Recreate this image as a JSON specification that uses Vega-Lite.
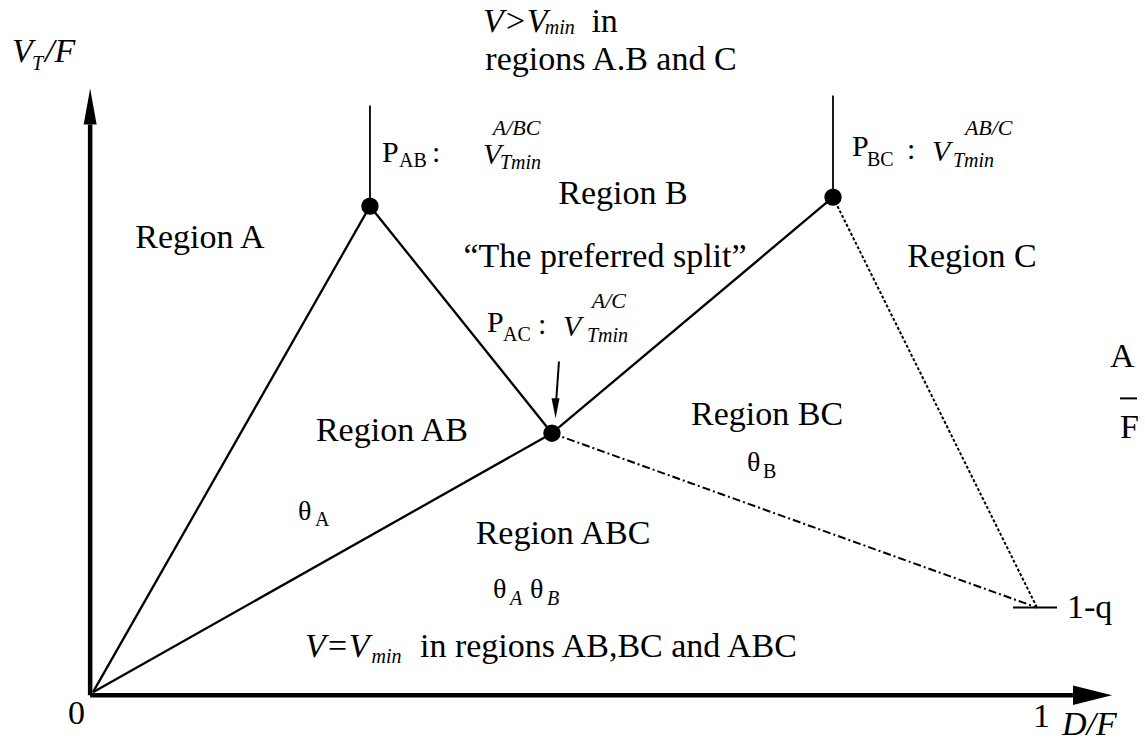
{
  "$schema": "https://vega.github.io/schema/vega-lite/v6.json",
  "width": 1145,
  "height": 742,
  "padding": 0,
  "autosize": {"type": "fit", "contains": "padding"},
  "background": "white",
  "config": {"view": {"stroke": null}, "text": {"font": "'Liberation Serif', 'DejaVu Serif', serif"}},
  "datasets": {
    "edges": [
      {"edge": "O-PAB", "x": 0, "y": 0, "x2": 0.2934, "y2": 0.976},
      {"edge": "PAB-PAC", "x": 0.2934, "y": 0.976, "x2": 0.4862, "y2": 0.52},
      {"edge": "O-PAC", "x": 0, "y": 0, "x2": 0.4862, "y2": 0.52},
      {"edge": "PAC-PBC", "x": 0.4862, "y": 0.52, "x2": 0.7839, "y2": 0.994},
      {"edge": "PAB-up", "x": 0.2934, "y": 0.976, "x2": 0.2934, "y2": 1.178},
      {"edge": "PBC-up", "x": 0.7839, "y": 0.994, "x2": 0.7839, "y2": 1.198},
      {"edge": "PBC-Q", "x": 0.7839, "y": 0.994, "x2": 1, "y2": 0.17},
      {"edge": "PAC-Q", "x": 0.4862, "y": 0.52, "x2": 1, "y2": 0.17}
    ],
    "axes": [
      {"axis": "VT/F", "x": -0.003, "y": -0.006, "x2": -0.003, "y2": 1.14},
      {"axis": "D/F", "x": -0.003, "y": -0.006, "x2": 1.038, "y2": -0.006}
    ],
    "heads": [
      {"dir": "up", "x": -0.003, "y": 1.176},
      {"dir": "right", "x": 1.0588, "y": -0.006},
      {"dir": "down", "x": 0.49, "y": 0.57}
    ],
    "aux": [
      {"item": "1-q tick", "x": 0.9746, "y": 0.17, "x2": 1.0212, "y2": 0.17},
      {"item": "A/F bar", "x": 1.0879, "y": 0.59, "x2": 1.1059, "y2": 0.59},
      {"item": "PAC pointer", "x": 0.4936, "y": 0.664, "x2": 0.4905, "y2": 0.58}
    ],
    "nodes": [
      {"name": "PAB", "x": 0.2934, "y": 0.976},
      {"name": "PAC", "x": 0.4862, "y": 0.52},
      {"name": "PBC", "x": 0.7839, "y": 0.994}
    ],
    "labels": [
      {"t": "Region A", "x": 0.1133, "y": 0.892, "role": "region"},
      {"t": "Region B", "x": 0.5614, "y": 0.98, "role": "region"},
      {"t": "Region C", "x": 0.9311, "y": 0.854, "role": "region"},
      {"t": "“The preferred split”", "x": 0.5424, "y": 0.854, "role": "region"},
      {"t": "Region AB", "x": 0.3167, "y": 0.504, "role": "region"},
      {"t": "Region BC", "x": 0.714, "y": 0.536, "role": "region"},
      {"t": "Region ABC", "x": 0.4979, "y": 0.298, "role": "region"},
      {"t": "regions A.B and C", "x": 0.5487, "y": 1.25, "role": "region"},
      {"t": "in", "x": 0.528, "y": 1.326, "role": "text"},
      {"t": "in regions AB,BC and ABC", "x": 0.3464, "y": 0.07, "role": "text"},
      {"t": "0", "x": -0.0265, "y": -0.064, "role": "text"},
      {"t": "1", "x": 0.9958, "y": -0.07, "role": "text"},
      {"t": "1-q", "x": 1.0318, "y": 0.148, "role": "text"},
      {"t": "A", "x": 1.0773, "y": 0.654, "role": "text"},
      {"t": "F", "x": 1.0879, "y": 0.51, "role": "text"},
      {"t": "V>V", "x": 0.4131, "y": 1.326, "role": "var"},
      {"t": "V=V", "x": 0.2246, "y": 0.07, "role": "var"},
      {"t": "D/F", "x": 1.0265, "y": -0.086, "role": "var"},
      {"t": "V", "x": -0.0858, "y": 1.266, "role": "var"},
      {"t": "/F", "x": -0.0508, "y": 1.266, "role": "var"},
      {"t": "min", "x": 0.4785, "y": 1.322, "role": "varsub"},
      {"t": "min", "x": 0.295, "y": 0.058, "role": "varsub"},
      {"t": "T", "x": -0.0646, "y": 1.25, "role": "varsub"},
      {"t": "Tmin", "x": 0.4311, "y": 1.05, "role": "varsub"},
      {"t": "Tmin", "x": 0.911, "y": 1.054, "role": "varsub"},
      {"t": "Tmin", "x": 0.5233, "y": 0.704, "role": "varsub"},
      {"t": "A", "x": 0.4417, "y": 0.176, "role": "varsub"},
      {"t": "B", "x": 0.4809, "y": 0.176, "role": "varsub"},
      {"t": "A/BC", "x": 0.4235, "y": 1.118, "role": "varsup"},
      {"t": "AB/C", "x": 0.9236, "y": 1.118, "role": "varsup"},
      {"t": "A/C", "x": 0.5284, "y": 0.772, "role": "varsup"},
      {"t": "P", "x": 0.3061, "y": 1.064, "role": "pname"},
      {"t": ":", "x": 0.3591, "y": 1.064, "role": "pname"},
      {"t": "P", "x": 0.804, "y": 1.076, "role": "pname"},
      {"t": ":", "x": 0.8623, "y": 1.07, "role": "pname"},
      {"t": "P", "x": 0.4174, "y": 0.724, "role": "pname"},
      {"t": ":", "x": 0.4714, "y": 0.72, "role": "pname"},
      {"t": "V", "x": 0.4131, "y": 1.06, "role": "pvar"},
      {"t": "V", "x": 0.8888, "y": 1.066, "role": "pvar"},
      {"t": "V", "x": 0.4979, "y": 0.716, "role": "pvar"},
      {"t": "AB", "x": 0.3242, "y": 1.054, "role": "psub"},
      {"t": "BC", "x": 0.8199, "y": 1.056, "role": "psub"},
      {"t": "AC", "x": 0.4343, "y": 0.706, "role": "psub"},
      {"t": "A", "x": 0.2352, "y": 0.334, "role": "psub"},
      {"t": "B", "x": 0.7097, "y": 0.43, "role": "psub"},
      {"t": "θ", "x": 0.2172, "y": 0.346, "role": "theta"},
      {"t": "θ", "x": 0.6928, "y": 0.444, "role": "theta"},
      {"t": "θ", "x": 0.4237, "y": 0.19, "role": "theta"},
      {"t": "θ", "x": 0.4629, "y": 0.19, "role": "theta"}
    ]
  },
  "encoding": {
    "x": {"field": "x", "type": "quantitative", "scale": {"domain": [-0.0985, 1.1144], "nice": false, "zero": false}, "axis": null},
    "y": {"field": "y", "type": "quantitative", "scale": {"domain": [-0.094, 1.39], "nice": false, "zero": false}, "axis": null}
  },
  "layer": [
    {
      "data": {"name": "edges"},
      "transform": [{"filter": {"field": "edge", "oneOf": ["O-PAB", "PAB-PAC", "O-PAC", "PAC-PBC"]}}],
      "mark": {"type": "rule", "color": "black", "strokeWidth": 2.3},
      "encoding": {"x2": {"field": "x2"}, "y2": {"field": "y2"}}
    },
    {
      "data": {"name": "edges"},
      "transform": [{"filter": {"field": "edge", "oneOf": ["PAB-up", "PBC-up"]}}],
      "mark": {"type": "rule", "color": "black", "strokeWidth": 1.8},
      "encoding": {"x2": {"field": "x2"}, "y2": {"field": "y2"}}
    },
    {
      "data": {"name": "edges"},
      "transform": [{"filter": {"field": "edge", "equal": "PBC-Q"}}],
      "mark": {"type": "rule", "color": "black", "strokeWidth": 2, "strokeDash": [3, 2]},
      "encoding": {"x2": {"field": "x2"}, "y2": {"field": "y2"}}
    },
    {
      "data": {"name": "edges"},
      "transform": [{"filter": {"field": "edge", "equal": "PAC-Q"}}],
      "mark": {"type": "rule", "color": "black", "strokeWidth": 2, "strokeDash": [8, 3, 2, 3]},
      "encoding": {"x2": {"field": "x2"}, "y2": {"field": "y2"}}
    },
    {
      "data": {"name": "axes"},
      "mark": {"type": "rule", "color": "black", "strokeWidth": 4.5},
      "encoding": {"x2": {"field": "x2"}, "y2": {"field": "y2"}}
    },
    {
      "data": {"name": "aux"},
      "mark": {"type": "rule", "color": "black", "strokeWidth": 2},
      "encoding": {"x2": {"field": "x2"}, "y2": {"field": "y2"}}
    },
    {
      "data": {"name": "heads"},
      "transform": [{"filter": {"field": "dir", "equal": "up"}}],
      "mark": {"type": "point", "filled": true, "opacity": 1, "color": "black", "size": 1296, "shape": "M0,-1L0.36,1L-0.36,1Z"}
    },
    {
      "data": {"name": "heads"},
      "transform": [{"filter": {"field": "dir", "equal": "right"}}],
      "mark": {"type": "point", "filled": true, "opacity": 1, "color": "black", "size": 1521, "shape": "M1,0L-1,-0.5L-1,0.5Z"}
    },
    {
      "data": {"name": "heads"},
      "transform": [{"filter": {"field": "dir", "equal": "down"}}],
      "mark": {"type": "point", "filled": true, "opacity": 1, "color": "black", "size": 400, "shape": "M0,1L0.4,-1L-0.4,-1Z"}
    },
    {
      "data": {"name": "nodes"},
      "mark": {"type": "point", "filled": true, "opacity": 1, "color": "black", "size": 300, "shape": "circle"}
    },
    {
      "data": {"name": "labels"},
      "transform": [{"filter": {"field": "role", "equal": "region"}}],
      "mark": {"type": "text", "font": "'Liberation Serif', 'DejaVu Serif', serif", "fontSize": 34, "align": "center", "baseline": "alphabetic", "color": "black"},
      "encoding": {"text": {"field": "t"}}
    },
    {
      "data": {"name": "labels"},
      "transform": [{"filter": {"field": "role", "equal": "text"}}],
      "mark": {"type": "text", "font": "'Liberation Serif', 'DejaVu Serif', serif", "fontSize": 34, "align": "left", "baseline": "alphabetic", "color": "black"},
      "encoding": {"text": {"field": "t"}}
    },
    {
      "data": {"name": "labels"},
      "transform": [{"filter": {"field": "role", "equal": "var"}}],
      "mark": {"type": "text", "font": "'Liberation Serif', 'DejaVu Serif', serif", "fontSize": 34, "fontStyle": "italic", "align": "left", "baseline": "alphabetic", "color": "black"},
      "encoding": {"text": {"field": "t"}}
    },
    {
      "data": {"name": "labels"},
      "transform": [{"filter": {"field": "role", "equal": "varsub"}}],
      "mark": {"type": "text", "font": "'Liberation Serif', 'DejaVu Serif', serif", "fontSize": 20, "fontStyle": "italic", "align": "left", "baseline": "alphabetic", "color": "black"},
      "encoding": {"text": {"field": "t"}}
    },
    {
      "data": {"name": "labels"},
      "transform": [{"filter": {"field": "role", "equal": "varsup"}}],
      "mark": {"type": "text", "font": "'Liberation Serif', 'DejaVu Serif', serif", "fontSize": 22, "fontStyle": "italic", "align": "left", "baseline": "alphabetic", "color": "black"},
      "encoding": {"text": {"field": "t"}}
    },
    {
      "data": {"name": "labels"},
      "transform": [{"filter": {"field": "role", "equal": "pname"}}],
      "mark": {"type": "text", "font": "'Liberation Serif', 'DejaVu Serif', serif", "fontSize": 30, "align": "left", "baseline": "alphabetic", "color": "black"},
      "encoding": {"text": {"field": "t"}}
    },
    {
      "data": {"name": "labels"},
      "transform": [{"filter": {"field": "role", "equal": "pvar"}}],
      "mark": {"type": "text", "font": "'Liberation Serif', 'DejaVu Serif', serif", "fontSize": 30, "fontStyle": "italic", "align": "left", "baseline": "alphabetic", "color": "black"},
      "encoding": {"text": {"field": "t"}}
    },
    {
      "data": {"name": "labels"},
      "transform": [{"filter": {"field": "role", "equal": "psub"}}],
      "mark": {"type": "text", "font": "'Liberation Serif', 'DejaVu Serif', serif", "fontSize": 20, "align": "left", "baseline": "alphabetic", "color": "black"},
      "encoding": {"text": {"field": "t"}}
    },
    {
      "data": {"name": "labels"},
      "transform": [{"filter": {"field": "role", "equal": "theta"}}],
      "mark": {"type": "text", "font": "'Liberation Serif', 'DejaVu Serif', serif", "fontSize": 28, "align": "left", "baseline": "alphabetic", "color": "black"},
      "encoding": {"text": {"field": "t"}}
    }
  ]
}
